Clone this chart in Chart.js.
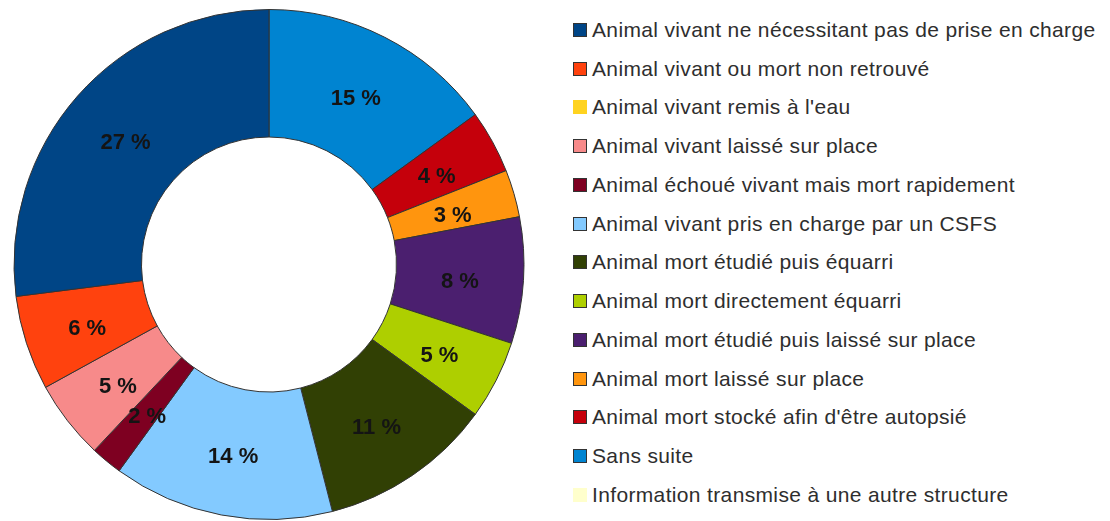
<!DOCTYPE html>
<html lang="fr">
<head>
<meta charset="utf-8">
<title>Suites données aux échouages</title>
<script src="https://cdn.jsdelivr.net/npm/chart.js@4.4.1/dist/chart.umd.min.js"></script>
<style>
  html, body { margin: 0; padding: 0; background: #ffffff; }
  #wrap { position: relative; width: 1110px; height: 521px; overflow: hidden; }
  #chart { position: absolute; left: 0; top: 0; }
  #legend {
    position: absolute; left: 573px; top: 10.6px;
    margin: 0; padding: 0; list-style: none;
    font-family: 'Liberation Sans', Arial, sans-serif;
    font-size: 21px; letter-spacing: 0.35px; color: #2e2e2e;
  }
  #legend li { display: flex; align-items: center; height: 38.75px; white-space: nowrap; }
  #legend .box { box-sizing: border-box; width: 14px; height: 14px; flex: 0 0 14px; }
  #legend .txt { margin-left: 5px; }
</style>
</head>
<body>
<div id="wrap">
  <canvas id="chart" width="538" height="521"></canvas>
  <ul id="legend"></ul>
</div>
<script>
// Categories, in legend order (top to bottom)
const categories = [
  "Animal vivant ne nécessitant pas de prise en charge",
  "Animal vivant ou mort non retrouvé",
  "Animal vivant remis à l'eau",
  "Animal vivant laissé sur place",
  "Animal échoué vivant mais mort rapidement",
  "Animal vivant pris en charge par un CSFS",
  "Animal mort étudié puis équarri",
  "Animal mort directement équarri",
  "Animal mort étudié puis laissé sur place",
  "Animal mort laissé sur place",
  "Animal mort stocké afin d'être autopsié",
  "Sans suite",
  "Information transmise à une autre structure"
];

// Share of each outcome, in percent
const percentages = [27, 6, 0, 5, 2, 14, 11, 5, 8, 3, 4, 15, 0];

const sliceColors = [
  "#004586", "#ff420e", "#ffd320", "#f78a8a", "#7e0021", "#83caff", "#314004",
  "#aecf00", "#4b1f6f", "#ff950e", "#c5000b", "#0084d1", "#ffffcc"
];

// The ring runs clockwise from the top through the legend list in reverse,
// so the dataset is reversed and the legend flips it back.
const order = categories.map((_, i) => i).reverse();
const ringLabels = order.map(i => categories[i]);
const ringValues = order.map(i => percentages[i]);
const ringColors = order.map(i => sliceColors[i]);
const ringBorderWidths = order.map(i => (percentages[i] > 0 ? 1 : 0));
const ringBorderColors = order.map(i => (percentages[i] > 0 ? "#333333" : sliceColors[i]));

const FONT = "'Liberation Sans', Arial, sans-serif";
const LABEL_DROP = 5;

// Percentage written in the middle of every non-empty slice
const sliceLabels = {
  id: "sliceLabels",
  afterDatasetsDraw(chart) {
    const ctx = chart.ctx;
    const meta = chart.getDatasetMeta(0);
    const values = chart.data.datasets[0].data;
    ctx.save();
    ctx.font = "bold 22px " + FONT;
    ctx.fillStyle = "#141414";
    ctx.textAlign = "center";
    ctx.textBaseline = "middle";
    meta.data.forEach((arc, i) => {
      if (!values[i]) return;
      const p = arc.tooltipPosition();
      ctx.fillText(values[i] + " %", p.x, p.y + LABEL_DROP);
    });
    ctx.restore();
  }
};

// Legend list built from the chart's own legend items
const htmlLegend = {
  id: "htmlLegend",
  afterUpdate(chart) {
    const ul = document.getElementById("legend");
    ul.innerHTML = "";
    const items = chart.options.plugins.legend.labels.generateLabels(chart).reverse();
    items.forEach(item => {
      const li = document.createElement("li");
      const box = document.createElement("span");
      box.className = "box";
      box.style.background = item.fillStyle;
      if (item.lineWidth) box.style.border = item.lineWidth + "px solid " + item.strokeStyle;
      const txt = document.createElement("span");
      txt.className = "txt";
      txt.textContent = item.text;
      li.appendChild(box);
      li.appendChild(txt);
      ul.appendChild(li);
    });
  }
};

new Chart(document.getElementById("chart"), {
  type: "doughnut",
  data: {
    labels: ringLabels,
    datasets: [{
      data: ringValues,
      backgroundColor: ringColors,
      borderColor: ringBorderColors,
      borderWidth: ringBorderWidths,
      hoverOffset: 0
    }]
  },
  options: {
    responsive: false,
    animation: false,
    events: [],
    radius: 255,
    cutout: "50%",
    layout: { padding: { top: 8 } },
    plugins: {
      tooltip: { enabled: false },
      legend: { display: false }
    }
  },
  plugins: [sliceLabels, htmlLegend]
});
</script>
</body>
</html>
